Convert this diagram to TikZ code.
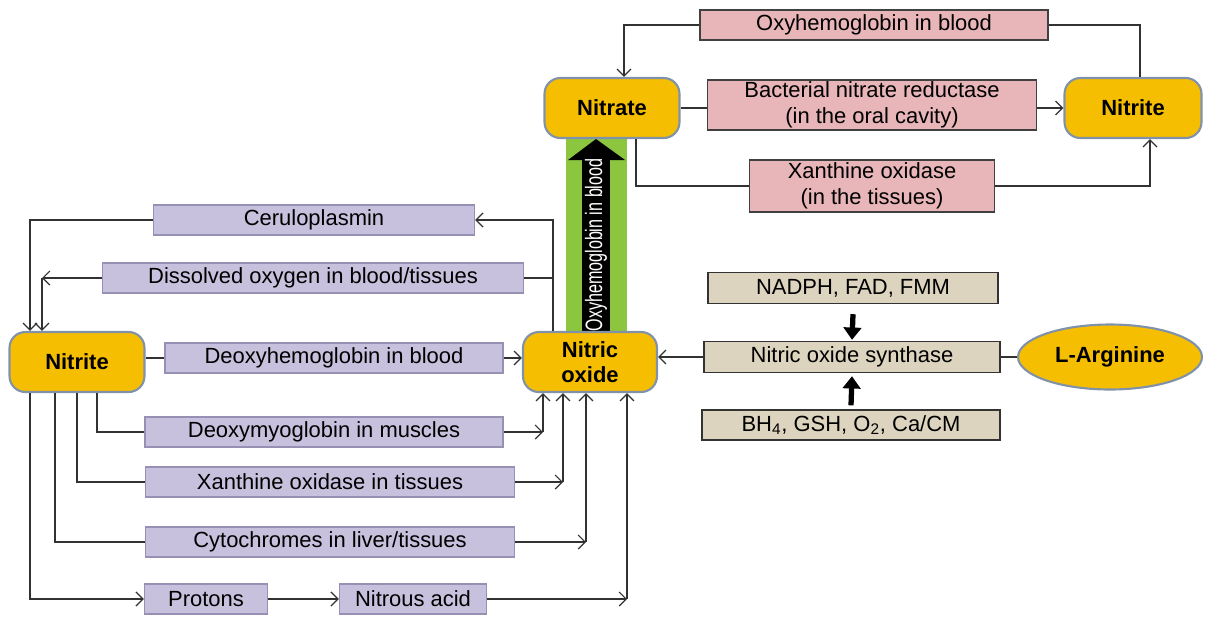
\documentclass[tikz,border=0pt]{standalone}
\usepackage{fontspec}
\setmainfont{Liberation Sans}
\usetikzlibrary{calc,arrows.meta,positioning,shapes.geometric}

\definecolor{oxOrange}{RGB}{246,190,0}
\definecolor{oxEdge}{RGB}{128,146,170}
\definecolor{pinkFill}{RGB}{232,181,185}
\definecolor{lavFill}{RGB}{200,193,221}
\definecolor{lavEdge}{RGB}{150,144,180}
\definecolor{tanFill}{RGB}{221,212,191}
\definecolor{barGreen}{RGB}{140,198,63}
\definecolor{wireGray}{RGB}{50,50,50}

\begin{document}
\begin{tikzpicture}[x=0.02cm, y=-0.02cm,
    font=\fontsize{12.5}{14.5}\selectfont,
    box/.style={draw, inner sep=0pt, line width=0.8pt, align=center, minimum height=0.6cm},
    species/.style={box, draw=oxEdge, fill=oxOrange, rounded corners=9pt, line width=1.2pt,
        minimum width=2.7cm, minimum height=1.2cm, font=\fontsize{12.5}{14}\selectfont\bfseries},
    pinkbox/.style={box, draw=black!75, fill=pinkFill},
    lavbox/.style={box, draw=lavEdge, fill=lavFill},
    tanbox/.style={box, draw=black!80, fill=tanFill, minimum height=0.62cm},
    wire/.style={draw=wireGray, line width=0.7pt},
    flow/.style={wire, -{Straight Barb[length=4pt, width=8pt]}},
    fat/.style={line width=3pt, -{Triangle[length=7pt, width=10pt]}}
]
\useasboundingbox (0,0) rectangle (1212,616);

% green band with the oxyhemoglobin arrow
\fill[barGreen] (566,136) rectangle (627,334);
\fill[black] (582,160) rectangle (610,334);
\fill[black] (568,160) -- (596,139) -- (625,160) -- cycle;
\node[rotate=90, text=white, inner sep=0pt] (oxyBand) at (596,245)
    {\scalebox{0.68}[1]{\fontsize{13.5}{15}\selectfont Oxyhemoglobin in blood}};

% upper loop: nitrate / nitrite
\node[species] (nitrate) at (612,108) {Nitrate};
\node[species, minimum width=2.74cm] (nitriteR) at (1133,108) {Nitrite};
\node[pinkbox, minimum width=6.96cm] (oxyTop) at (874,25) {Oxyhemoglobin in blood};
\node[pinkbox, minimum width=6.58cm, minimum height=1.0cm] (bacNR) at (872,105)
    {Bacterial nitrate reductase\\(in the oral cavity)};
\node[pinkbox, minimum width=4.9cm, minimum height=1.04cm] (xoTis) at (872,186)
    {Xanthine oxidase\\(in the tissues)};

\draw[wire] ($(nitriteR.north)+(7,0)$) |- (oxyTop.east);
\draw[flow] (oxyTop.west) -| ($(nitrate.north)+(12,0)$);
\draw[wire] (nitrate.east) -- (nitrate.east -| bacNR.west);
\draw[flow] (bacNR.east |- nitriteR.west) -- (nitriteR.west);
\draw[wire] ($(nitrate.south)+(24,0)$) |- (xoTis.west);
\draw[flow] (xoTis.east) -| ($(nitriteR.south)+(17,0)$);

% nitric oxide and the nitrite pathways
\node[species, minimum width=2.68cm] (nitricOx) at (590,362) {Nitric\\oxide};
\node[species] (nitriteL) at (77,362) {Nitrite};

\node[lavbox, minimum width=6.42cm] (cerulo) at (314,220) {Ceruloplasmin};
\node[lavbox, minimum width=8.42cm] (dissOx) at (313,278) {Dissolved oxygen in blood/tissues};
\node[lavbox, minimum width=6.76cm] (deoxyHb) at (334,358) {Deoxyhemoglobin in blood};
\node[lavbox, minimum width=7.16cm] (deoxyMb) at (324,432) {Deoxymyoglobin in muscles};
\node[lavbox, minimum width=7.38cm] (xoTisL) at (330,482) {Xanthine oxidase in tissues};
\node[lavbox, minimum width=7.38cm] (cyto) at (330,542) {Cytochromes in liver/tissues};
\node[lavbox, minimum width=2.46cm] (protons) at (206,599) {Protons};
\node[lavbox, minimum width=2.94cm] (nitrous) at (413,599) {Nitrous acid};

\coordinate (noTap) at ($(nitricOx.north)+(-37,0)$);
\coordinate (ceruloDrop) at ($(nitriteL.north)+(-47,0)$);
\coordinate (dissDrop) at ($(nitriteL.north)+(-35,0)$);

\draw[flow] (noTap) |- (cerulo.east);
\draw[flow] (cerulo.west) -| (ceruloDrop);
\draw[wire] (dissOx.east) -- (dissOx.east -| noTap);
\draw[flow] (dissOx.west) -- (dissOx.west -| dissDrop);
\draw[flow] (dissOx.west -| dissDrop) -- (dissDrop);

\draw[wire] (nitriteL.east |- deoxyHb.west) -- (deoxyHb.west);
\draw[flow] (deoxyHb.east) -- (deoxyHb.east -| nitricOx.west);

\foreach \boxName/\fromX/\toX in {deoxyMb/20/-47, xoTisL/0/-27, cyto/-22/-4}
{
    \coordinate (tap) at ($(nitricOx.south)+(\toX,0)$);
    \draw[wire] ($(nitriteL.south)+(\fromX,0)$) |- (\boxName.west);
    \draw[flow] (\boxName.east) -- (\boxName.east -| tap);
    \draw[flow] (\boxName.east -| tap) -- (tap);
}

\coordinate (acidTap) at ($(nitricOx.south)+(37,0)$);
\draw[flow] ($(nitriteL.south)+(-47,0)$) |- (protons.west);
\draw[flow] (protons) -- (nitrous);
\draw[flow] (nitrous.east) -- (nitrous.east -| acidTap);
\draw[flow] (nitrous.east -| acidTap) -- (acidTap);

% nitric oxide synthase
\node[tanbox, minimum width=5.92cm] (nos) at (852,357) {Nitric oxide synthase};
\node[tanbox, minimum width=5.8cm] (nadph) at (853,288) {NADPH, FAD, FMM};
\node[tanbox, minimum width=5.96cm, minimum height=0.6cm] (bh4) at (851,425)
    {BH\textsubscript{4}, GSH, O\textsubscript{2}, Ca/CM};
\node[ellipse, draw=oxEdge, fill=oxOrange, line width=1.2pt, inner sep=0pt,
    minimum width=3.68cm, minimum height=1.3cm, font=\fontsize{12.5}{15}\selectfont\bfseries]
    (larg) at (1110,357) {L-Arginine};

\draw[flow] (nos.west) -- (nitricOx.east |- nos.west);
\draw[wire] (larg.west) -- (nos.east);
\draw[fat] ($(nadph.south)+(0,10)$) -- ($(nos.north)+(0,-1)$);
\draw[fat] ($(bh4.north)+(0,-4)$) -- ($(nos.south)+(0,3)$);
\end{tikzpicture}
\end{document}
